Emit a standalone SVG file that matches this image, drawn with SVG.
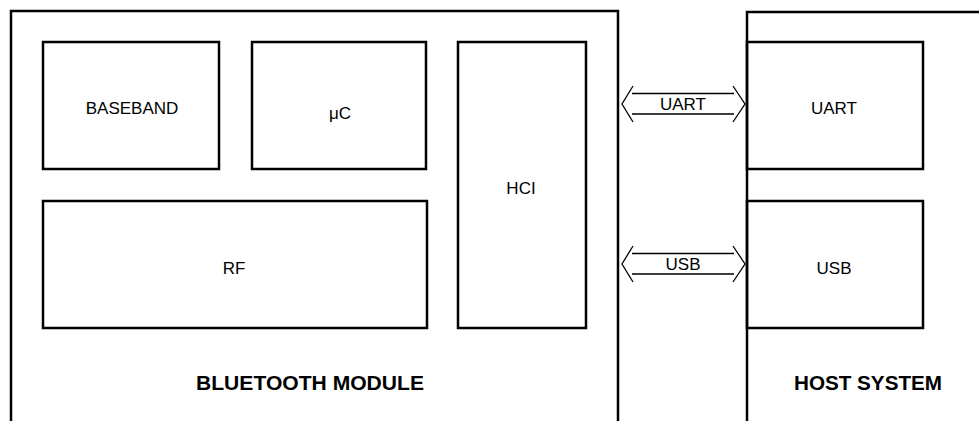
<svg xmlns="http://www.w3.org/2000/svg" width="979" height="421" viewBox="0 0 979 421">
<style>
.box{fill:none;stroke:#000;stroke-width:2.5}
.lbl{font-family:"Liberation Sans",Arial,sans-serif;font-size:17px;fill:#000;text-anchor:middle;dominant-baseline:central}
.big{font-family:"Liberation Sans",Arial,sans-serif;font-size:20px;font-weight:bold;fill:#000;text-anchor:middle;dominant-baseline:central}
.ar{fill:none;stroke:#000;stroke-width:1.3}
</style>
<rect width="979" height="421" fill="#fff"/>
<g id="bluetooth-module">
<path class="box" d="M11,421 V11 H618 V421"/>
<text class="big" x="310" y="383" textLength="228" lengthAdjust="spacingAndGlyphs">BLUETOOTH MODULE</text>
</g>
<g id="host-system">
<path class="box" d="M747,421 V12 H985"/>
<text class="big" x="868" y="383" textLength="148" lengthAdjust="spacingAndGlyphs">HOST SYSTEM</text>
</g>
<g id="baseband"><rect class="box" x="43" y="42" width="176" height="127"/><text class="lbl" x="132" y="108">BASEBAND</text></g>
<g id="uc"><rect class="box" x="252" y="42" width="174" height="127"/><text class="lbl" x="340" y="113">μC</text></g>
<g id="hci"><rect class="box" x="458" y="42" width="128" height="286"/><text class="lbl" x="521" y="188">HCI</text></g>
<g id="rf"><rect class="box" x="43" y="201" width="384" height="127"/><text class="lbl" x="234" y="268">RF</text></g>
<g id="host-uart"><rect class="box" x="747" y="42" width="176" height="127"/><text class="lbl" x="834" y="108">UART</text></g>
<g id="host-usb"><rect class="box" x="747" y="201" width="176" height="127"/><text class="lbl" x="834" y="268">USB</text></g>
<g id="connectors">
<path class="ar" d="M632,93.5 H734 M632,114 H734 M633,86 L622,104 L633,122 M733,86 L745,104 L733,122"/>
<text class="lbl" x="683" y="104">UART</text>
<path class="ar" d="M632,253.5 H734 M632,274 H734 M633,246 L622,264 L633,282 M733,246 L745,264 L733,282"/>
<text class="lbl" x="683" y="264">USB</text>
</g>
</svg>
